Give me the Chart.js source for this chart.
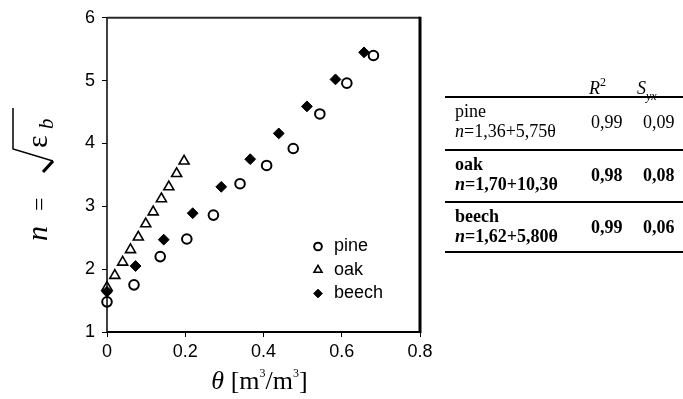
<!DOCTYPE html>
<html>
<head>
<meta charset="utf-8">
<script src="https://cdn.jsdelivr.net/npm/chart.js@4.4.0/dist/chart.umd.min.js"></script>
<style>
  body { margin: 0; background: #fff; }
  #wrap { position: relative; width: 683px; height: 399px; }
  #tbl { position: absolute; left: 0; top: 0; font-family: "Liberation Serif", "Times New Roman", serif; font-size: 18px; color: #000; }
  .t { position: absolute; white-space: nowrap; line-height: 18px; }
  .hl { position: absolute; left: 445px; width: 238px; height: 2px; background: #000; }
  sub, sup { line-height: 0; }
</style>
</head>
<body>
<div id="wrap">
  <canvas id="myChart" width="683" height="399"></canvas>
  <div id="tbl"></div>
</div>
<script>
var pineX = [0, 0.069, 0.136, 0.204, 0.272, 0.34, 0.408, 0.476, 0.544, 0.613, 0.681];
var pineY = [1.48, 1.75, 2.20, 2.48, 2.86, 3.36, 3.65, 3.92, 4.47, 4.96, 5.40];

var oakX = [0, 0.02, 0.04, 0.06, 0.08, 0.099, 0.118, 0.139, 0.158, 0.178, 0.197];
var oakY = [1.71, 1.90, 2.11, 2.31, 2.51, 2.72, 2.91, 3.12, 3.31, 3.52, 3.72];

var beechX = [0, 0.073, 0.145, 0.219, 0.292, 0.366, 0.439, 0.511, 0.584, 0.657];
var beechY = [1.64, 2.05, 2.47, 2.89, 3.31, 3.75, 4.16, 4.59, 5.02, 5.45];

var xTicks = [0, 0.2, 0.4, 0.6, 0.8];
var yTicks = [1, 2, 3, 4, 5, 6];
var names = ["pine", "oak", "beech"];

// fit table
var equations = ["=1,36+5,75\u03b8", "=1,70+10,3\u03b8", "=1,62+5,80\u03b8"];
var r2 = ["0,99", "0,98", "0,99"];
var syx = ["0,09", "0,08", "0,06"];

function pts(xs, ys) {
    var out = [];
    xs.forEach((x, i) => {
        out.push({ x: x, y: ys[i] });
    });
    return out;
}

var markers = [
    { style: "circle", r: 4.8, w: 2, fill: false },
    { style: "triangle", r: 5.8, w: 1.6, fill: false },
    { style: "rectRot", r: 5.4, w: 1, fill: true },
];

function drawMarker(ctx, m, x, y, r) {
    ctx.save();
    ctx.lineWidth = m.w;
    ctx.strokeStyle = "#000";
    ctx.fillStyle = "#000";
    ctx.beginPath();
    if (m.style == "circle") {
        ctx.arc(x, y, r, 0, Math.PI * 2);
    } else if (m.style == "triangle") {
        ctx.moveTo(x, y - r);
        ctx.lineTo(x + r * 0.866, y + r * 0.5);
        ctx.lineTo(x - r * 0.866, y + r * 0.5);
        ctx.closePath();
    } else {
        ctx.moveTo(x, y - r);
        ctx.lineTo(x + r, y);
        ctx.lineTo(x, y + r);
        ctx.lineTo(x - r, y);
        ctx.closePath();
    }
    if (m.fill) ctx.fill();
    ctx.stroke();
    ctx.restore();
}

var framePlugin = {
    id: "frame",
    afterDraw: function (chart) {
        var ctx = chart.ctx;
        var a = chart.chartArea;
        ctx.save();
        ctx.strokeStyle = "#000";
        // left, bottom
        ctx.lineWidth = 1.5;
        ctx.beginPath();
        ctx.moveTo(a.left, a.top);
        ctx.lineTo(a.left, a.bottom);
        ctx.stroke();
        ctx.lineWidth = 2;
        ctx.beginPath();
        ctx.moveTo(a.left, a.bottom);
        ctx.lineTo(a.right, a.bottom);
        ctx.stroke();
        // top (grey-ish) and right (heavy)
        ctx.strokeStyle = "#2a2a2a";
        ctx.lineWidth = 2;
        ctx.beginPath();
        ctx.moveTo(a.left, a.top);
        ctx.lineTo(a.right, a.top);
        ctx.stroke();
        ctx.strokeStyle = "#000";
        ctx.lineWidth = 3;
        ctx.beginPath();
        ctx.moveTo(a.right, a.top - 1);
        ctx.lineTo(a.right, a.bottom + 1);
        ctx.stroke();

        // legend inside plot
        ctx.font = "18px 'Liberation Sans', Arial, sans-serif";
        ctx.fillStyle = "#000";
        ctx.textBaseline = "middle";
        names.forEach((n, i) => {
            var y = 246.5 + i * 23.5;
            drawMarker(ctx, markers[i], 318, y, markers[i].r * 0.8);
            ctx.fillText(n, 334, y);
        });

        // x title: θ [m3/m3]
        ctx.textBaseline = "alphabetic";
        var big = "26px 'Liberation Serif', 'Times New Roman', serif";
        var ital = "italic 26px 'Liberation Serif', 'Times New Roman', serif";
        var small = "12px 'Liberation Serif', 'Times New Roman', serif";
        var parts = [
            [ital, "\u03b8 ", 0],
            [big, "[m", 0],
            [small, "3", -12],
            [big, "/m", 0],
            [small, "3", -12],
            [big, "]", 0],
        ];
        var total = 0;
        parts.forEach((p) => {
            ctx.font = p[0];
            total += ctx.measureText(p[1]).width;
        });
        var cx = (a.left + a.right) / 2 - total / 2 - 4;
        parts.forEach((p) => {
            ctx.font = p[0];
            ctx.fillText(p[1], cx, 389 + p[2]);
            cx += ctx.measureText(p[1]).width;
        });

        // y title: n = sqrt(eps_b), rotated
        ctx.save();
        ctx.translate(47, 241);
        ctx.rotate(-Math.PI / 2);
        ctx.font = "italic 30px 'Liberation Serif', 'Times New Roman', serif";
        ctx.fillText("n", 0, 0);
        ctx.font = "24px 'Liberation Serif', 'Times New Roman', serif";
        ctx.fillText("=", 30, 0);
        ctx.lineWidth = 1.5;
        ctx.beginPath();
        ctx.moveTo(133, -34);
        ctx.lineTo(92, -34);
        ctx.lineTo(80, 6);
        ctx.stroke();
        ctx.lineWidth = 3.2;
        ctx.beginPath();
        ctx.moveTo(80, 6);
        ctx.lineTo(69, -4);
        ctx.stroke();
        ctx.font = "30px 'Liberation Serif', 'Times New Roman', serif";
        ctx.fillText("\u03b5", 93, 0);
        ctx.font = "italic 21px 'Liberation Serif', 'Times New Roman', serif";
        ctx.fillText("b", 112, 6);
        ctx.restore();

        ctx.restore();
    },
};

var tickFont = { family: "'Liberation Sans', Arial, sans-serif", size: 18 };

const ctx = document.getElementById("myChart").getContext("2d");
const myChart = new Chart(ctx, {
    type: "scatter",
    plugins: [framePlugin],
    data: {
        datasets: [
            {
                label: names[0],
                data: pts(pineX, pineY),
                pointStyle: "circle",
                pointRadius: 4.8,
                pointBorderWidth: 2,
                borderColor: "#000",
                backgroundColor: "rgba(0,0,0,0)",
                clip: false,
            },
            {
                label: names[1],
                data: pts(oakX, oakY),
                pointStyle: "triangle",
                pointRadius: 5.8,
                pointBorderWidth: 1.6,
                borderColor: "#000",
                backgroundColor: "rgba(0,0,0,0)",
                clip: false,
            },
            {
                label: names[2],
                data: pts(beechX, beechY),
                pointStyle: "rectRot",
                pointRadius: 5.4,
                pointBorderWidth: 1,
                borderColor: "#000",
                backgroundColor: "#000",
                clip: false,
            },
        ],
    },
    options: {
        responsive: false,
        animation: false,
        events: [],
        layout: {
            padding: { left: 0, top: 16, right: 263, bottom: 0 },
        },
        plugins: {
            legend: { display: false },
            tooltip: { enabled: false },
        },
        scales: {
            x: {
                type: "linear",
                min: 0,
                max: 0.8,
                afterBuildTicks: function (scale) {
                    scale.ticks = xTicks.map((v) => ({ value: v }));
                },
                afterFit: function (scale) {
                    scale.height = 67;
                },
                ticks: {
                    color: "#000",
                    font: tickFont,
                    padding: 4,
                    maxRotation: 0,
                    callback: function (value) {
                        return String(value);
                    },
                },
                grid: {
                    drawOnChartArea: false,
                    drawTicks: true,
                    tickLength: 5,
                    color: "#000",
                },
                border: { display: false },
            },
            y: {
                type: "linear",
                min: 1,
                max: 6,
                afterBuildTicks: function (scale) {
                    scale.ticks = yTicks.map((v) => ({ value: v }));
                },
                afterFit: function (scale) {
                    scale.width = 107;
                },
                ticks: {
                    color: "#000",
                    font: tickFont,
                    padding: 7,
                },
                grid: {
                    drawOnChartArea: false,
                    drawTicks: true,
                    tickLength: 5,
                    color: "#000",
                },
                border: { display: false },
            },
        },
    },
});

// table on the right
var tbl = document.getElementById("tbl");
var lines = [97, 150, 202, 252];
function put(html, left, baseline, extra) {
    var d = document.createElement("div");
    d.className = "t";
    d.style.left = left + "px";
    d.style.top = baseline - 15 + "px";
    if (extra) d.style.fontWeight = extra;
    d.innerHTML = html;
    tbl.appendChild(d);
}
lines.forEach((y) => {
    var l = document.createElement("div");
    l.className = "hl";
    l.style.top = y - 1 + "px";
    tbl.appendChild(l);
});
put('<i>R</i><sup style="font-size:12px;position:relative;top:-1px">2</sup>', 589, 94);
put('<i>S</i><sub style="font-size:12px;position:relative;top:1px"><i>yx</i></sub>', 637, 94);
names.forEach((n, i) => {
    var top = lines[i];
    var w = i == 0 ? "normal" : "bold";
    put(n, 455, top + 20, w);
    put("<i>n</i>" + equations[i], 455, top + 40, w);
    put(r2[i], 591, top + 31, w);
    put(syx[i], 643, top + 31, w);
});
</script>
</body>
</html>
